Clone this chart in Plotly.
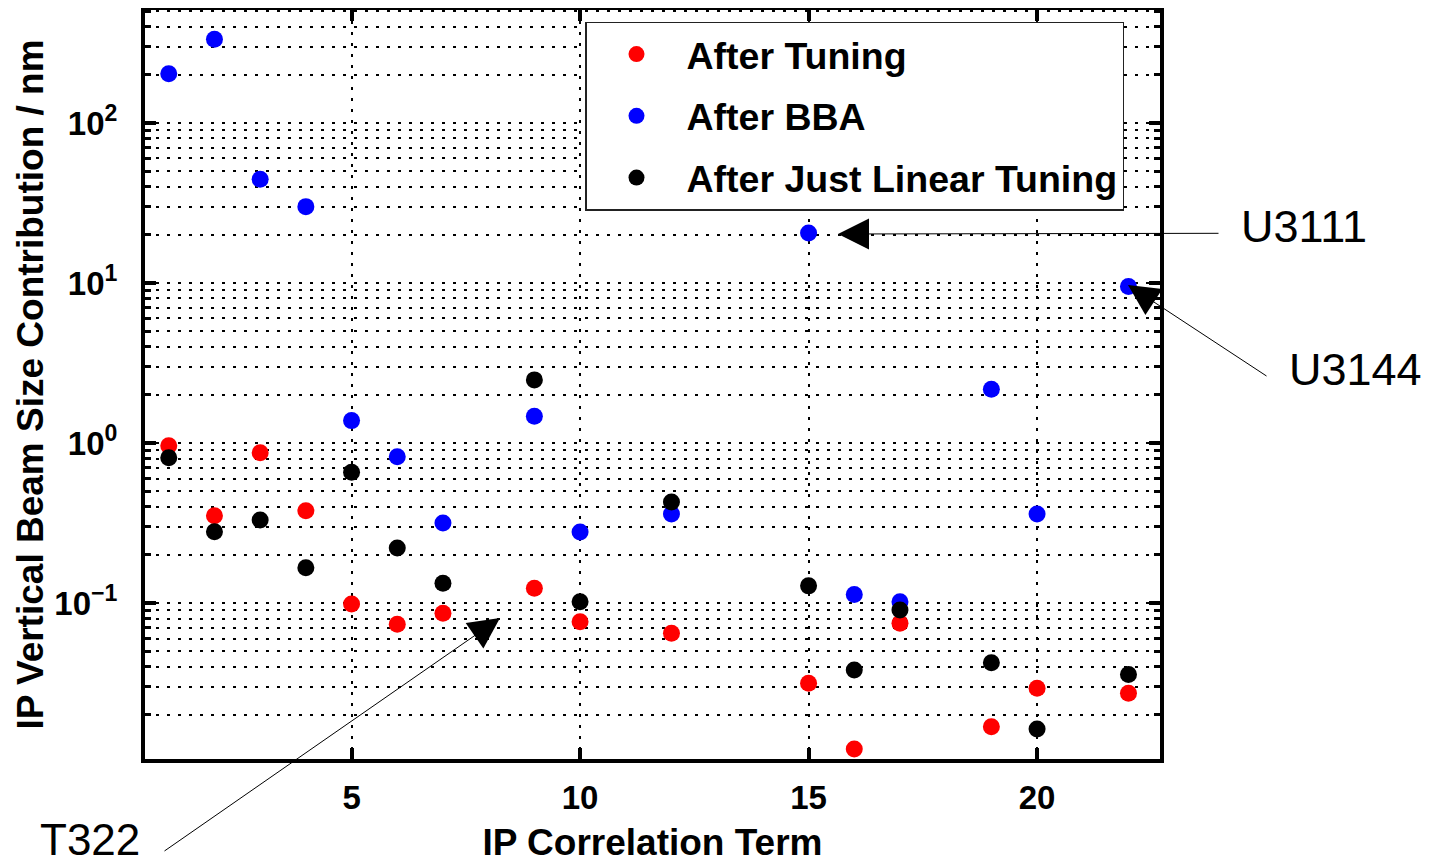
import plotly.graph_objects as go
import math

# ---------------- data ----------------
terms = [1, 2, 3, 4, 5, 6, 7, 9, 10, 12, 15, 16, 17, 19, 20, 22]
after_tuning = [0.96, 0.351, 0.87, 0.377, 0.0986, 0.0736, 0.0862, 0.1236, 0.0764,
                0.0647, 0.0315, 0.01224, 0.0747, 0.01686, 0.0293, 0.0273]
after_bba = [203, 334, 44.5, 30.0, 1.38, 0.82, 0.316, 1.47, 0.278,
             0.36, 20.5, 0.113, 0.102, 2.17, 0.36, 9.5]
after_linear = [0.81, 0.279, 0.33, 0.166, 0.656, 0.221, 0.133, 2.48, 0.102,
                0.428, 0.128, 0.0381, 0.0904, 0.0423, 0.0163, 0.0358]

series_names = ["After Tuning", "After BBA", "After Just Linear Tuning"]
series_colors = ["#FF0000", "#0000FF", "#000000"]

x_ticks = [5, 10, 15, 20]
y_tick_vals = [0.1, 1, 10, 100]
y_tick_text = ["10<sup>\u22121</sup>", "10<sup>0</sup>", "10<sup>1</sup>", "10<sup>2</sup>"]
x_range = [0.48, 22.69]
y_range = [math.log10(0.0106), math.log10(508)]

labels = ["U3111", "U3144", "T322"]

FONT = "Liberation Sans, Arial, Helvetica, sans-serif"

# intended plot area on screen (pixels); the page body adds an 8px offset
L, R, T, B = 145, 1160, 10, 759
OFF = 8
W, H = 1432, 868

fig = go.Figure()
for name, vals, col, grp in zip(series_names, [after_tuning, after_bba, after_linear],
                                series_colors, ["a", "b", "c"]):
    fig.add_trace(go.Scatter(
        x=terms, y=vals, mode="markers", name=name, legendgroup=grp,
        marker=dict(color=col, size=17, line=dict(width=0)),
    ))

grid_dash = "3px,8px"
fig.update_xaxes(
    range=x_range, tickvals=x_ticks, ticks="inside", ticklen=11, tickwidth=4,
    tickcolor="black", showline=True, linewidth=4, linecolor="black", mirror="allticks",
    showgrid=True, gridcolor="black", gridwidth=1.5, griddash=grid_dash,
    zeroline=False, automargin=False,
    tickfont=dict(family=FONT, size=33, color="black", weight="bold"),
    ticklabelstandoff=6,
    title=dict(text="IP Correlation Term", standoff=16,
               font=dict(family=FONT, size=37, color="black", weight="bold")),
)
fig.update_yaxes(
    type="log", range=y_range, tickvals=y_tick_vals, ticktext=y_tick_text,
    ticks="inside", ticklen=11, tickwidth=4, tickcolor="black",
    showline=True, linewidth=4, linecolor="black", mirror="allticks",
    showgrid=True, gridcolor="black", gridwidth=1.5, griddash=grid_dash,
    minor=dict(dtick="D1", ticks="inside", ticklen=6, tickwidth=3, tickcolor="black",
               showgrid=True, gridcolor="black", gridwidth=1.5, griddash=grid_dash),
    automargin=False,
    tickfont=dict(family=FONT, size=33, color="black", weight="bold"),
    ticklabelstandoff=17,
    title=dict(text="IP Vertical Beam Size Contribution / nm", standoff=0,
               font=dict(family=FONT, size=37, color="black", weight="bold")),
)

def px_to_x(px):
    return x_range[0] + (px - L) / (R - L) * (x_range[1] - x_range[0])

def py_to_ylog(py):
    return y_range[1] - (py - T) / (B - T) * (y_range[1] - y_range[0])

def paper_x(px):
    return (px - L) / (R - L)

def paper_y(py):
    return (B - py) / (B - T)

# arrows: (tip px, tip py, tail px, tail py)
arrows = [(838, 234, 1220, 233.3), (1128, 285, 1268, 377), (500, 618, 163, 852)]
for (tx, ty, sx, sy) in arrows:
    fig.add_annotation(
        x=px_to_x(tx), y=py_to_ylog(ty), xref="x", yref="y",
        ax=sx - tx, ay=sy - ty, axref="pixel", ayref="pixel",
        showarrow=True, arrowhead=2, arrowsize=6.2, arrowwidth=1, arrowcolor="black",
        text="",
    )

label_pos = [(1240, 226), (1288, 369), (39, 839)]
label_sizes = [45, 45, 44]
for lab, (lx, ly), fs in zip(labels, label_pos, label_sizes):
    fig.add_annotation(
        x=paper_x(lx), y=paper_y(ly), xref="paper", yref="paper",
        xanchor="left", yanchor="middle", showarrow=False, text=lab,
        borderpad=0,
        font=dict(family=FONT, size=fs, color="black"),
    )

fig.update_layout(
    width=W, height=H,
    margin=dict(l=L - OFF, r=W - R + OFF, t=T - OFF, b=H - B + OFF, autoexpand=False),
    paper_bgcolor="white", plot_bgcolor="white",
    showlegend=True,
    legend=dict(
        x=paper_x(585), y=paper_y(21.7), xanchor="left", yanchor="top",
        bgcolor="white", bordercolor="#222", borderwidth=1.5,
        font=dict(family=FONT, size=37.5, color="black", weight="bold"),
        tracegroupgap=10, itemwidth=90, traceorder="grouped",
    ),
)

fig.write_html("out.html")
